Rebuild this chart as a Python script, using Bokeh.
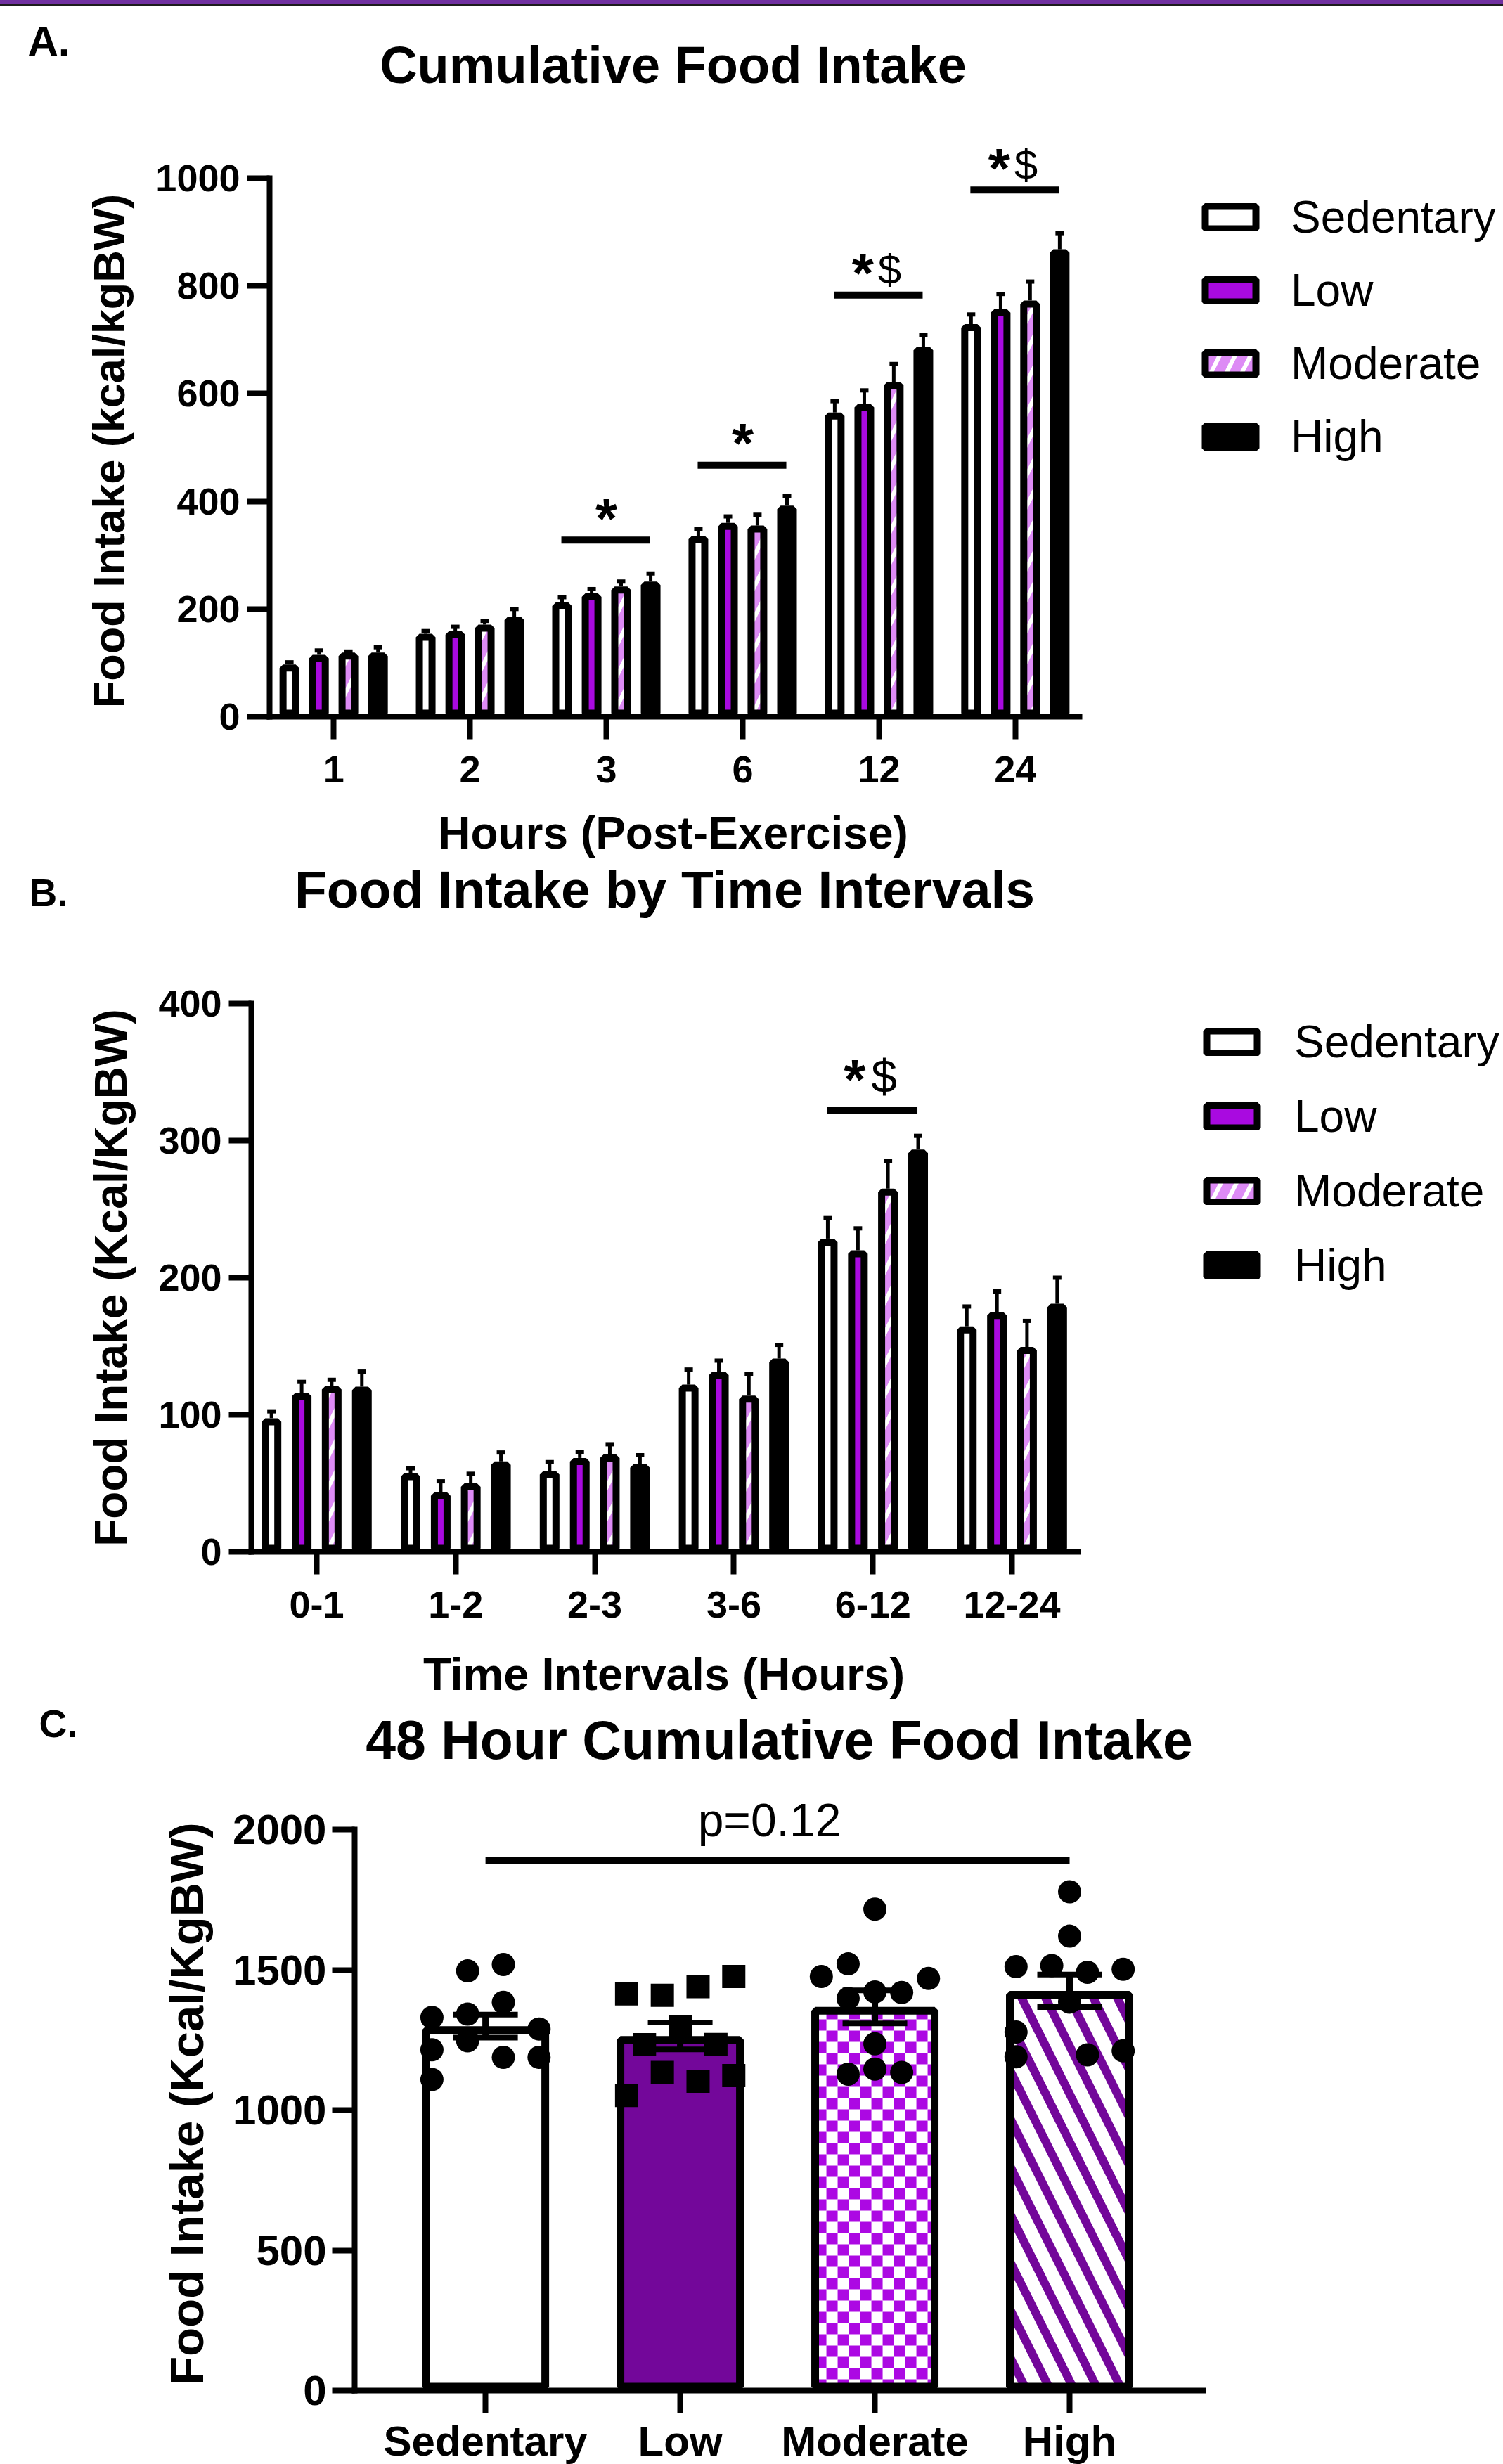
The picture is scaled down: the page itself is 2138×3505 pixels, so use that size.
import numpy as np
from bokeh.plotting import figure
from bokeh.models import (Range1d, FixedTicker, Whisker, TeeHead, ColumnDataSource,
                          Label, Legend, LegendItem, Div, LinearAxis)
from bokeh.layouts import column
from bokeh.embed import file_html
from bokeh.resources import INLINE

# ---------------- data ----------------
groups = ["Sedentary", "Low", "Moderate", "High"]

# A. cumulative intake (kcal/kgBW)
hours = ["1", "2", "3", "6", "12", "24"]
cum_sed = [97, 154, 212, 336, 565, 729]
cum_low = [115, 159, 229, 360, 581, 757]
cum_mod = [119, 171, 242, 355, 622, 773]
cum_high = [119, 186, 251, 392, 687, 868]
cum_sed_sem = [4, 5, 10, 13, 21, 18]
cum_low_sem = [8, 8, 8, 12, 25, 28]
cum_mod_sem = [2, 7, 9, 20, 33, 35]
cum_high_sem = [10, 14, 15, 18, 22, 30]
cum_sig_idx = [2, 3, 4, 5]
cum_sig_y = [328, 467, 783, 978]
cum_sig_text = ["*", "*", "*$", "*$"]

# B. intake by interval
intervals = ["0-1", "1-2", "2-3", "3-6", "6-12", "12-24"]
int_sed = [97.5, 57.5, 59, 122, 228.5, 164.5]
int_low = [116, 43.5, 68.5, 131.5, 220, 175]
int_mod = [121, 50, 71, 114, 265, 149.5]
int_high = [120.5, 66, 64, 141, 293.5, 181]
int_sed_sem = [5, 3.5, 6.5, 11, 15, 14.5]
int_low_sem = [8, 8, 4.5, 8, 16, 15]
int_mod_sem = [4.5, 7, 7.5, 15.5, 20, 19]
int_high_sem = [11, 6.5, 6.5, 10, 10, 19]
int_sig_idx = [4]
int_sig_y = [322]
int_sig_text = ["*$"]

# C. 48 h cumulative intake
tot_mean = [1299, 1264, 1368, 1425]
tot_sem = [41, 48, 59, 58]
tot_sed = [1496, 1519, 1384, 1342, 1330, 1289, 1247, 1215, 1188, 1188, 1109]
tot_low = [1414, 1409, 1440, 1476, 1297, 1233, 1234, 1134, 1103, 1123, 1052]
tot_mod = [1716, 1521, 1476, 1469, 1421, 1419, 1398, 1236, 1146, 1128, 1134]
tot_high = [1778, 1620, 1511, 1515, 1502, 1491, 1385, 1278, 1190, 1197, 1211]
# scatter column slot of each animal (GraphPad scatter layout)
tot_sed_col = [-1, 1, 1, -1, -3, 3, -1, -3, 1, 3, -3]
tot_low_col = [-3, -1, 1, 3, 0, -2, 2, -1, 1, 3, -3]
tot_mod_col = [0, -1.5, -3, 3, 0, 1.5, -1.5, 0, 0, -1.5, 1.5]
tot_high_col = [0, 0, -3, -1, 3, 1, 0, -3, -3, 1, 3]
tot_p_text = "p=0.12"
tot_sig_y = 1890

# ---------------- style ----------------
FONT = "Liberation Sans"
PAGE_W = 2138
BLACK = "black"
LOW_A = "#a90ae0"
MOD_A = "#dd8bf5"
LOW_C = "#73079a"
CHECK_C = "#ac09e3"


def make_fig(top, height, L, B, x_at_L, ppc, ppu):
    """Figure whose frame is the whole figure; (L, B) is the page pixel of the axes origin."""
    xa = x_at_L - L / ppc
    xb = xa + PAGE_W / ppc
    yb = (B - top) / ppu
    ya = -(top + height - B) / ppu
    p = figure(width=PAGE_W, height=height, x_range=Range1d(xa, xb), y_range=Range1d(ya, yb),
               min_border=0, x_axis_location=None, y_axis_location=None,
               output_backend="svg", toolbar_location=None, title=None)
    p.outline_line_color = None
    p.xgrid.visible = False
    p.ygrid.visible = False
    p.background_fill_color = "white"
    p.border_fill_color = "white"

    def conv(px, py):
        return xa + px / ppc, (B - py) / ppu
    return p, conv


def add_axes(p, x_at_L, xbounds, ybounds, xticks, yticks, tick_fs, xlabels=None,
             x_standoff=14, y_standoff=10):
    xax = LinearAxis(fixed_location=0, bounds=xbounds, ticker=FixedTicker(ticks=xticks))
    yax = LinearAxis(fixed_location=x_at_L, bounds=ybounds, ticker=FixedTicker(ticks=yticks))
    if xlabels is not None:
        xax.major_label_overrides = {t: s for t, s in zip(xticks, xlabels)}
    for ax in (xax, yax):
        ax.axis_line_width = 8
        ax.axis_line_color = BLACK
        ax.axis_line_cap = "square"
        ax.major_tick_line_width = 8
        ax.major_tick_line_color = BLACK
        ax.major_tick_out = 32
        ax.major_tick_in = 0
        ax.minor_tick_line_color = None
        ax.major_label_text_font = FONT
        ax.major_label_text_font_style = "bold"
        ax.major_label_text_font_size = tick_fs
        ax.major_label_text_color = BLACK
    xax.major_label_standoff = x_standoff
    yax.major_label_standoff = y_standoff
    p.add_layout(xax, "below")
    p.add_layout(yax, "left")


def label(p, conv, px, py, text, size, bold=True, align="center", angle=0.0):
    x, y = conv(px, py)
    p.add_layout(Label(x=x, y=y, text=text, text_font=FONT, text_font_size=f"{size}px",
                       text_font_style="bold" if bold else "normal", text_color=BLACK,
                       text_align=align, text_baseline="middle", angle=angle))


def grouped_panel(top, height, L, B, xr, ppc, ppu, ymax, yticks, cats, series, sems,
                  sig_idx, sig_y, sig_text, sig_px, star_dx, dollar_dx, dollar_fs,
                  legend_vx, legend_vy, legend_spacing, legend_standoff):
    p, conv = make_fig(top, height, L, B, xr[0], ppc, ppu)
    add_axes(p, xr[0], xr, (0, ymax), list(range(len(cats))), yticks, "54px", xlabels=cats,
             x_standoff=24)

    lw = 10
    bw = (28 - lw) / ppc
    inset = (lw / 2) / ppu
    offsets = [-0.325, -0.108, 0.108, 0.325]
    styles = [
        dict(fill_color="white"),
        dict(fill_color=LOW_A),
        dict(fill_color=MOD_A, hatch_pattern="/", hatch_color="white", hatch_scale=44, hatch_weight=6),
        dict(fill_color=BLACK),
    ]
    idx = np.arange(len(cats))
    rends = []
    for vals, sem, off, st in zip(series, sems, offsets, styles):
        vals = np.array(vals, dtype=float)
        x = idx + off
        r = p.vbar(x=x, width=bw, top=vals - inset, bottom=inset, line_color=BLACK, line_width=lw, **st)
        rends.append(r)
        src = ColumnDataSource(dict(x=x, lo=vals, hi=vals + np.array(sem)))
        p.add_layout(Whisker(source=src, base="x", lower="lo", upper="hi", dimension="height",
                             line_width=5, line_color=BLACK, lower_head=None,
                             upper_head=TeeHead(size=12, line_width=6, line_color=BLACK),
                             level="underlay"))

    # significance bars and marks
    sig_idx = np.array(sig_idx)
    p.segment(x0=sig_idx + offsets[0] - 0.005, x1=sig_idx + offsets[3] - 0.005,
              y0=sig_y, y1=sig_y, line_width=10, line_color=BLACK)
    for gi, sy, txt in zip(sig_idx, sig_y, sig_text):
        has_dollar = "$" in txt
        sdx = star_dx if has_dollar else 0.0
        p.add_layout(Label(x=gi + sdx / ppc, y=sy + (sig_px - 5) / ppu, text="*",
                           text_font=FONT, text_font_size="80px", text_font_style="bold",
                           text_align="center", text_baseline="middle", text_color=BLACK))
        if has_dollar:
            p.add_layout(Label(x=gi + dollar_dx / ppc, y=sy + sig_px / ppu,
                               text="$", text_font=FONT, text_font_size=f"{dollar_fs}px",
                               text_align="center", text_baseline="middle", text_color=BLACK))

    items = [LegendItem(label=g, renderers=[r]) for g, r in zip(groups, rends)]
    leg = Legend(items=items, location=(legend_vx, legend_vy), orientation="vertical",
                 glyph_width=90, glyph_height=40, label_standoff=legend_standoff,
                 spacing=legend_spacing, padding=0, margin=0, border_line_color=None,
                 background_fill_alpha=0, label_text_font=FONT, label_text_font_size="64px",
                 label_text_color=BLACK)
    p.add_layout(leg)
    return p, conv


# ---------------- panel A ----------------
A_top, A_h = 8, 1213
pA, convA = grouped_panel(A_top, A_h, 383, 1019, (-0.47, 5.47), (1535 - 383) / 5.94, 766 / 1000,
                          1000, [0, 200, 400, 600, 800, 1000], hours,
                          [cum_sed, cum_low, cum_mod, cum_high],
                          [cum_sed_sem, cum_low_sem, cum_mod_sem, cum_high_sem],
                          cum_sig_idx, cum_sig_y, cum_sig_text, 36, -23, 15, 60,
                          1705, 563, 30, 41)
label(pA, convA, 39, 58, "A.", 60, align="left")
label(pA, convA, 957, 92, "Cumulative Food Intake", 74)
label(pA, convA, 154, 641, "Food Intake (kcal/kgBW)", 63, angle=np.pi / 2)
label(pA, convA, 957, 1184, "Hours (Post-Exercise)", 64)

# ---------------- panel B ----------------
B_top, B_h = 1221, 1198
pB, convB = grouped_panel(B_top, B_h, 357, 2207, (-0.47, 5.475), (1533 - 357) / 5.945, 780 / 400,
                          400, [0, 100, 200, 300, 400], intervals,
                          [int_sed, int_low, int_mod, int_high],
                          [int_sed_sem, int_low_sem, int_mod_sem, int_high_sem],
                          int_sig_idx, int_sig_y, int_sig_text, 49, -26, 16, 66,
                          1707, 582, 32, 44)
label(pB, convB, 41, 1269, "B.", 55, align="left")
label(pB, convB, 945, 1264, "Food Intake by Time Intervals", 75)
label(pB, convB, 157, 1817, "Food Intake (Kcal/KgBW)", 64, angle=np.pi / 2)
label(pB, convB, 944, 2381, "Time Intervals (Hours)", 65)

# ---------------- panel C ----------------
C_top, C_h = 2419, 1086
ppcC, ppuC = (1711 - 504) / 4.358, 798 / 2000
pC, convC = make_fig(C_top, C_h, 504, 3400, -0.672, ppcC, ppuC)
add_axes(pC, -0.672, (-0.672, 3.686), (0, 2000), list(range(len(groups))),
         [0, 500, 1000, 1500, 2000], "60px", xlabels=groups, x_standoff=6, y_standoff=8)

lwC = 11
bwC = 170 / ppcC
insetC = (lwC / 2) / ppuC
xC = np.arange(len(groups))
topC = np.array(tot_mean, dtype=float) - insetC
fill_src = ColumnDataSource(dict(
    x=xC, top=topC,
    fill=["white", LOW_C, "white", "white"],
    hatch=[" ", " ", " ", "\\"],
))
pC.vbar(x="x", width=bwC, top="top", bottom=insetC, fill_color="fill", line_color=None,
        hatch_pattern="hatch", hatch_color=LOW_C, hatch_scale=68, hatch_weight=12, source=fill_src)

# checkerboard fill of the Moderate bar
mi = groups.index("Moderate")
cx, cy = 16 / ppcC, 16 / ppuC
l0, r0, t0 = mi - bwC / 2, mi + bwC / 2, topC[mi]
ql, qr, qb, qt = [], [], [], []
for a in range(int(np.ceil(bwC / cx))):
    for b in range(int(np.ceil(t0 / cy))):
        if (a + b) % 2 == 0:
            ql.append(l0 + a * cx)
            qr.append(min(l0 + (a + 1) * cx, r0))
            qb.append(b * cy)
            qt.append(min((b + 1) * cy, t0))
pC.quad(left=ql, right=qr, bottom=qb, top=qt, fill_color=CHECK_C, line_color=None)

pC.vbar(x=xC, width=bwC, top=topC, bottom=insetC, fill_color=None, line_color=BLACK, line_width=lwC)

colw = 25.4 / ppcC
for i, (vals, cols, mk) in enumerate([(tot_sed, tot_sed_col, "circle"),
                                      (tot_low, tot_low_col, "square"),
                                      (tot_mod, tot_mod_col, "circle"),
                                      (tot_high, tot_high_col, "circle")]):
    pC.scatter(x=i + np.array(cols) * colw, y=vals, marker=mk, size=33,
               fill_color=BLACK, line_color=BLACK, line_width=0)

srcC = ColumnDataSource(dict(x=xC, lo=np.array(tot_mean) - np.array(tot_sem),
                             hi=np.array(tot_mean) + np.array(tot_sem)))
pC.add_layout(Whisker(source=srcC, base="x", lower="lo", upper="hi", dimension="height",
                      line_width=9, line_color=BLACK, level="overlay",
                      upper_head=TeeHead(size=92, line_width=8, line_color=BLACK),
                      lower_head=TeeHead(size=92, line_width=8, line_color=BLACK)))

pC.segment(x0=[0], x1=[len(groups) - 1], y0=[tot_sig_y], y1=[tot_sig_y], line_width=11, line_color=BLACK)
label(pC, convC, 1094, 2588, tot_p_text, 66, bold=False)
label(pC, convC, 55, 2451, "C.", 55, align="left")
label(pC, convC, 1108, 2474, "48 Hour Cumulative Food Intake", 77)
label(pC, convC, 265, 2992, "Food Intake (Kcal/KgBW)", 67, angle=np.pi / 2)

band = Div(text="", width=PAGE_W, height=8, margin=0,
           styles={"background-color": "#7030a0", "border-bottom": "2px solid #1c1c1c",
                   "box-sizing": "border-box"})

layout = column(band, pA, pB, pC, spacing=0)
open("out.html", "w").write(file_html(layout, INLINE))
